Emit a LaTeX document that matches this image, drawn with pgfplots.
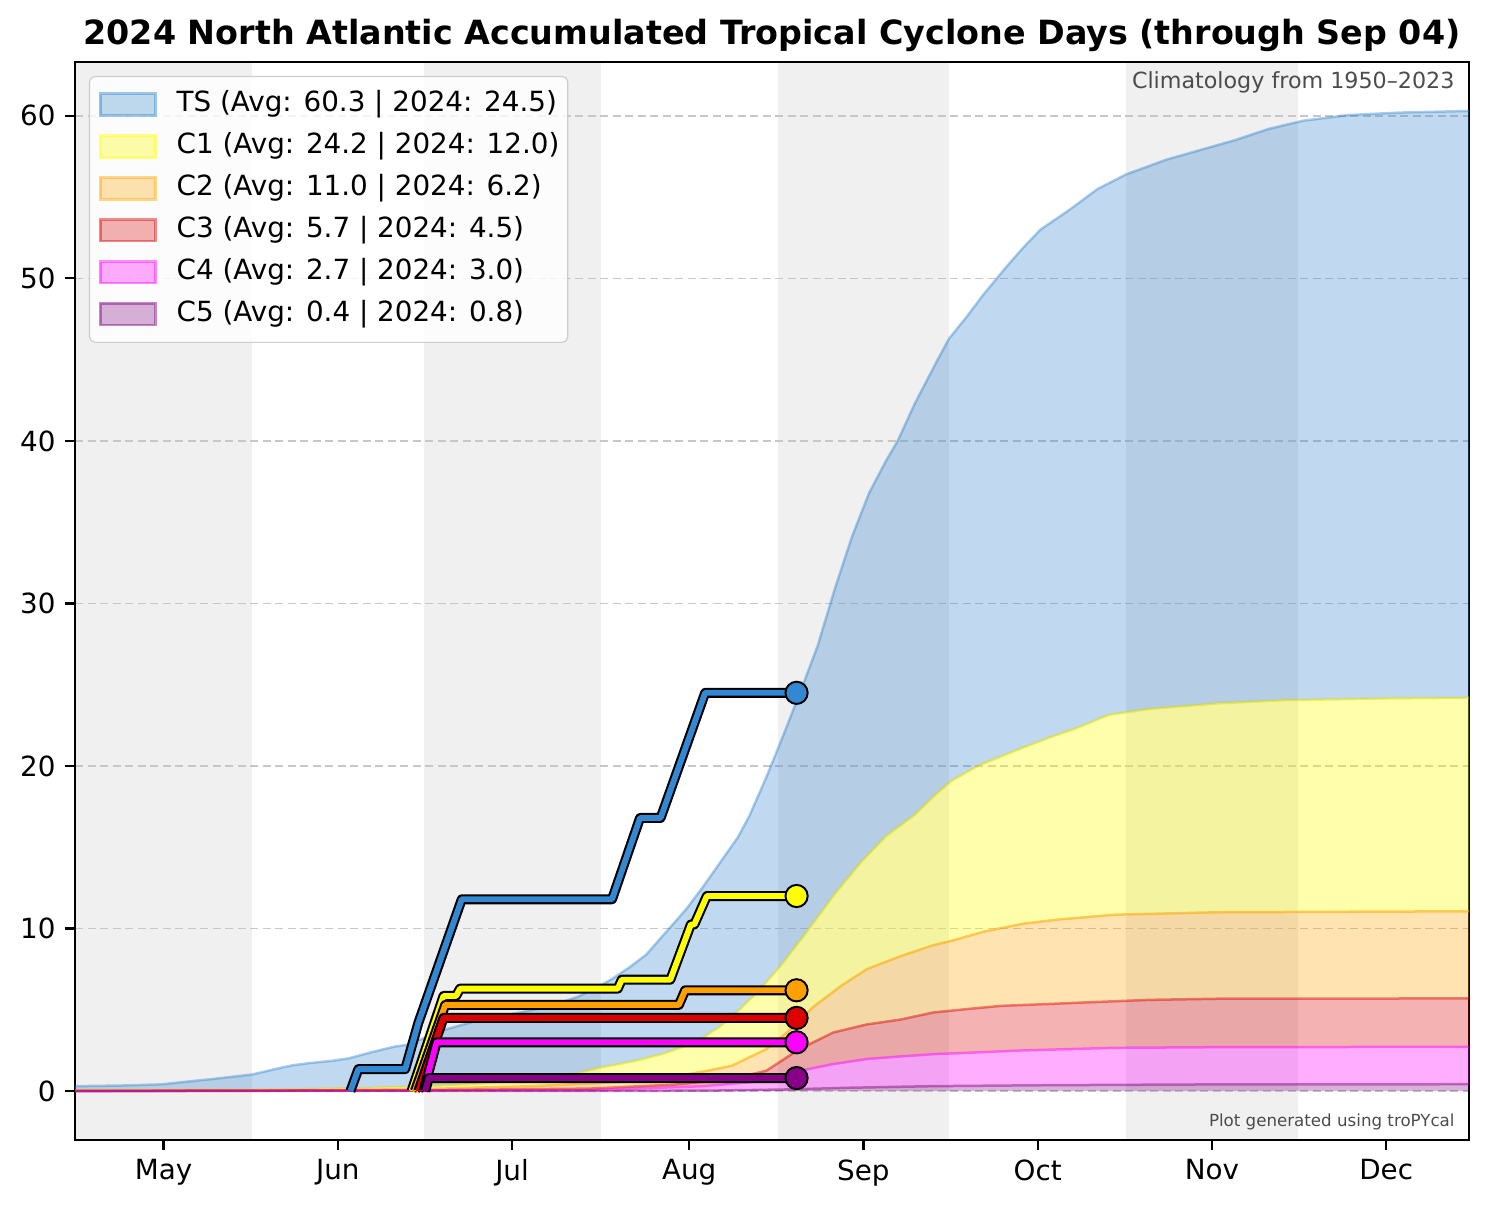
\documentclass[border=0pt]{standalone}
\usepackage{fontspec}
\setmainfont{DejaVu Sans}
\usepackage{pgfplots}
\usepackage{pgfplotstable}
\usepgfplotslibrary{fillbetween}
\pgfplotsset{compat=1.18}

% climatology fills / edges
\definecolor{tsc}{RGB}{45,130,205}
\definecolor{c1c}{RGB}{255,255,0}
\definecolor{c2c}{RGB}{255,165,0}
\definecolor{c3c}{RGB}{220,0,0}
\definecolor{c4c}{RGB}{255,0,255}
\definecolor{c5c}{RGB}{128,0,128}
% 2024 lines
\definecolor{tsl}{RGB}{51,136,212}
\definecolor{c1l}{RGB}{255,255,0}
\definecolor{c2l}{RGB}{255,160,0}
\definecolor{c3l}{RGB}{221,0,0}
\definecolor{c4l}{RGB}{255,0,255}
\definecolor{c5l}{RGB}{136,0,136}
\definecolor{band}{RGB}{240,240,240}

% x = days since May 1
\pgfplotstableread{
d v
0 0.30
8 0.34
15 0.41
18 0.52
24 0.74
31 1.02
35 1.35
38 1.58
41 1.72
45 1.86
48 2.02
52 2.40
56 2.74
58.3 2.85
61 3.25
65 3.80
70 4.30
76 4.70
83 5.20
88 5.80
91 6.30
94 6.90
97 7.60
100 8.40
104 10.0
107 11.2
110 12.6
114 14.6
116 15.6
118 16.9
121 19.3
124 21.9
127 24.6
130 27.4
133 30.9
136 34.1
139 36.8
142 38.8
144 40.0
147 42.3
151 45.0
153 46.3
156 47.6
159 49.0
163 50.7
166 51.9
169 53.0
174 54.2
179 55.5
184 56.4
191 57.3
197 57.9
203 58.5
209 59.2
215 59.7
223 60.05
232 60.2
244 60.3
}\tsclim

\pgfplotstableread{
d v
0 0.05
31 0.08
50 0.18
61 0.30
70 0.45
80 0.75
88 1.10
92 1.45
98 1.85
103 2.30
107 2.80
110 3.30
113 4.00
116 4.90
119.5 6.10
123.5 7.70
128 9.75
132.7 12.0
137.5 14.05
142 15.7
147 17.0
150.5 18.2
153.5 19.1
158 20.0
165 21.0
171 21.8
175.5 22.35
181 23.15
188 23.5
200 23.85
212 24.05
229 24.15
244 24.2
}\cAclim

\pgfplotstableread{
d v
0 0.02
40 0.05
61 0.12
80 0.30
95 0.55
105 0.90
110 1.20
115 1.56
121 2.58
124.6 3.60
129.3 5.20
134 6.45
138.6 7.50
144.5 8.30
150 8.95
154 9.30
159 9.80
166 10.3
172 10.55
177 10.7
182 10.85
200 11.0
244 11.06
}\cBclim

\pgfplotstableread{
d v
0 0.01
61 0.05
90 0.15
105 0.40
115 0.74
121 1.25
126.8 2.58
132.7 3.60
138.6 4.10
144.5 4.40
150.3 4.84
156 5.04
162 5.24
170 5.35
176.6 5.45
188 5.61
200 5.68
244 5.70
}\cCclim

\pgfplotstableread{
d v
0 0.0
90 0.05
110 0.30
121 0.63
127 1.25
132.7 1.66
138.6 1.97
144.5 2.13
150.3 2.27
156 2.35
165 2.49
182 2.66
200 2.70
244 2.72
}\cDclim

\pgfplotstableread{
d v
0 0.0
110 0.02
125 0.10
135 0.20
150 0.30
170 0.36
200 0.41
244 0.42
}\cEclim

% 2024 accumulated days
\pgfplotstableread{
d v
48.2 0
49.6 1.35
57.8 1.35
59.7 3.7
60.1 4.2
67.7 11.8
94.0 11.8
98.9 16.8
102.5 16.8
110.3 24.5
126.3 24.5
}\tsobs

\pgfplotstableread{
d v
58.9 0
64.5 5.85
66.7 5.85
67.4 6.3
95.0 6.3
95.7 6.85
104.2 6.85
107.8 10.25
108.4 10.25
110.6 12.0
126.3 12.0
}\cAobs

\pgfplotstableread{
d v
59.5 0
64.8 5.3
105.7 5.3
106.8 6.2
126.3 6.2
}\cBobs

\pgfplotstableread{
d v
60.1 0
64.5 4.5
126.3 4.5
}\cCobs

\pgfplotstableread{
d v
61.0 0
63.3 3.0
126.3 3.0
}\cDobs

\pgfplotstableread{
d v
61.3 0
61.9 0.8
126.3 0.8
}\cEobs

\newcommand{\obsline}[2]{%
  \addplot[black, line width=3.6pt, line join=round, forget plot] table[x=d,y=v] {#1};
  \addplot[#2, line width=2.1pt, line join=round, forget plot] table[x=d,y=v] {#1};
}
\newcommand{\obsmark}[2]{%
  \addplot[only marks, mark=*, mark size=4pt, forget plot,
    mark options={fill=#1, draw=black, line width=0.7pt}] coordinates {(126.3,#2)};
}
\newcommand{\band}[2]{%
  \addplot[fill=band, draw=none, on layer=axis background, forget plot]
    coordinates {(#1,-3.015) (#2,-3.015) (#2,63.315) (#1,63.315)} -- cycle;
}

\begin{document}
\begin{tikzpicture}
\begin{axis}[
  set layers,
  scale only axis,
  width=501.8pt, height=388.1pt,
  xmin=0, xmax=244, ymin=-3.015, ymax=63.315,
  xtick={15.5,46,76.5,107.5,138,168.5,199,229.5},
  xticklabels={May,Jun,Jul,Aug,Sep,Oct,Nov,Dec},
  ytick={0,10,20,30,40,50,60},
  tick align=outside, tick pos=left,
  major tick length=3.5pt,
  tick style={black, line width=0.8pt},
  axis line style={line width=0.8pt},
  ymajorgrids,
  grid style={dash pattern=on 3pt off 1.5pt, color=black!22, line width=0.6pt},
  /pgf/number format/assume math mode=true,
  tick label style={font=\fontsize{10}{12}\selectfont},
  title={2024 North Atlantic Accumulated Tropical Cyclone Days (through Sep 04)},
  title style={font=\fontsize{12}{14}\selectfont\bfseries, yshift=-6pt},
  legend cell align=left,
  legend image code/.code={\path (0pt,0pt) (27.5pt,0pt); \draw[#1, sharp corners] (2.5pt,-3.9pt) rectangle (22.3pt,3.9pt);},
  legend style={at={(0.01,0.987)}, anchor=north west,
    draw=black!20, fill=white, fill opacity=0.8, text opacity=1,
    rounded corners=2pt, font=\fontsize{10}{12}\selectfont,
    inner xsep=1pt, inner ysep=3pt, row sep=0.9pt,
    nodes={inner sep=2pt, text depth=2.6pt, text height=7.6pt}},
]
\band{0}{31}
\band{61}{92}
\band{123}{153}
\band{184}{214}

% climatology curves
\addplot[name path=zero, draw=none, forget plot] coordinates {(0,0) (244,0)};
\addplot[name path=ts, draw=tsc, draw opacity=0.4, line width=0.9pt, forget plot] table[x=d,y=v] {\tsclim};
\addplot[name path=c1, draw=c1c!85!black, draw opacity=0.45, line width=0.9pt, forget plot] table[x=d,y=v] {\cAclim};
\addplot[name path=c2, draw=c2c, draw opacity=0.55, line width=0.9pt, forget plot] table[x=d,y=v] {\cBclim};
\addplot[name path=c3, draw=c3c, draw opacity=0.45, line width=0.9pt, forget plot] table[x=d,y=v] {\cCclim};
\addplot[name path=c4, draw=c4c, draw opacity=0.45, line width=0.9pt, forget plot] table[x=d,y=v] {\cDclim};
\addplot[name path=c5, draw=c5c, draw opacity=0.45, line width=0.9pt, forget plot] table[x=d,y=v] {\cEclim};

\addplot[fill=tsc, fill opacity=0.3, forget plot] fill between[of=ts and c1];
\addplot[fill=c1c, fill opacity=0.33, forget plot] fill between[of=c1 and c2];
\addplot[fill=c2c, fill opacity=0.3, forget plot] fill between[of=c2 and c3];
\addplot[fill=c3c, fill opacity=0.3, forget plot] fill between[of=c3 and c4];
\addplot[fill=c4c, fill opacity=0.32, forget plot] fill between[of=c4 and c5];
\addplot[fill=c5c, fill opacity=0.3, forget plot] fill between[of=c5 and zero];

% 2024 lines
\obsline{\tsobs}{tsl}
\obsline{\cAobs}{c1l}
\obsline{\cBobs}{c2l}
\obsline{\cCobs}{c3l}
\obsline{\cDobs}{c4l}
\obsline{\cEobs}{c5l}
\obsmark{tsl}{24.5}
\obsmark{c1l}{12.0}
\obsmark{c2l}{6.2}
\obsmark{c3l}{4.5}
\obsmark{c4l}{3.0}
\obsmark{c5l}{0.8}

% legend
\addlegendimage{fill=tsc, fill opacity=0.3, draw=tsc, draw opacity=0.45, line width=0.9pt}
\addlegendentry{TS (Avg: 60.3 | 2024: 24.5)}
\addlegendimage{fill=c1c, fill opacity=0.33, draw=c1c, draw opacity=0.45, line width=0.9pt}
\addlegendentry{C1 (Avg: 24.2 | 2024: 12.0)}
\addlegendimage{fill=c2c, fill opacity=0.3, draw=c2c, draw opacity=0.45, line width=0.9pt}
\addlegendentry{C2 (Avg: 11.0 | 2024: 6.2)}
\addlegendimage{fill=c3c, fill opacity=0.3, draw=c3c, draw opacity=0.45, line width=0.9pt}
\addlegendentry{C3 (Avg: 5.7 | 2024: 4.5)}
\addlegendimage{fill=c4c, fill opacity=0.32, draw=c4c, draw opacity=0.45, line width=0.9pt}
\addlegendentry{C4 (Avg: 2.7 | 2024: 3.0)}
\addlegendimage{fill=c5c, fill opacity=0.3, draw=c5c, draw opacity=0.45, line width=0.9pt}
\addlegendentry{C5 (Avg: 0.4 | 2024: 0.8)}

\node[anchor=east, font=\fontsize{8}{10}\selectfont, text=black!70, inner sep=0pt]
  at ([shift={(-5pt,-7.2pt)}]rel axis cs:1,1) {Climatology from 1950--2023};
\node[anchor=east, font=\fontsize{6}{7}\selectfont, text=black!70, inner sep=0pt]
  at ([shift={(-5pt,6.5pt)}]rel axis cs:1,0) {Plot generated using troPYcal};

\coordinate (BL) at (rel axis cs:0,0);
\coordinate (TR) at (rel axis cs:1,1);
\end{axis}
\pgfresetboundingbox
\path[use as bounding box] ([shift={(-27pt,-24.5pt)}]BL) rectangle ([shift={(7.2pt,22.3pt)}]TR);
\end{tikzpicture}
\end{document}
